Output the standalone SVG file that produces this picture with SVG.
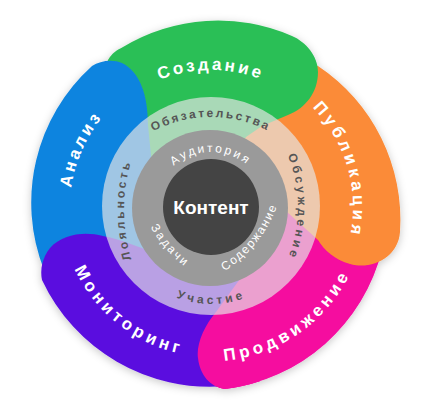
<svg xmlns="http://www.w3.org/2000/svg" width="424" height="404" viewBox="0 0 424 404">
<style>
.outer{font-family:"Liberation Sans",Arial,sans-serif;font-weight:bold;font-size:17px;fill:#fff;letter-spacing:3.5px;dominant-baseline:central}
.mid{font-family:"Liberation Sans",Arial,sans-serif;font-weight:bold;font-size:12px;fill:#555;letter-spacing:3px;dominant-baseline:central}
.inner{font-family:"Liberation Sans",Arial,sans-serif;font-size:12px;fill:#fff;letter-spacing:2px;dominant-baseline:central}
.core{font-family:"Liberation Sans",Arial,sans-serif;font-weight:bold;font-size:19px;fill:#fff;dominant-baseline:central}
</style>
<defs>
<filter id="sh" x="-10%" y="-10%" width="120%" height="120%">
<feDropShadow dx="0" dy="2" stdDeviation="4" flood-color="#000" flood-opacity="0.22"/>
</filter>
<clipPath id="pc"><rect x="150" y="265" width="110" height="139"/></clipPath>
<path id="pinkShape" d="M245,272 L216,312 C204,326 196,345 198,358 C200,375 210,387 225,389 A185 185 0 0 0 382,250 L392,222 L300,200 L211,207 Z"/>
<path id="p-sozd" d="M68,207 A143 143 0 0 1 354,207"/>
<path id="p-publ" d="M170.2,64.7 A148 148 0 0 1 251.8,349.3"/>
<path id="p-anal" d="M150,344 A150 150 0 0 1 272,70"/>
<path id="p-monit" d="M96,115.5 A147 147 0 0 0 326,298.5"/>
<path id="p-prod" d="M87.7,292.4 A150 150 0 0 0 334.3,121.6"/>
<path id="p-obyaz" d="M84,240 A127 127 0 0 1 338,240"/>
<path id="p-obsu" d="M162,67 A140 140 0 0 1 162,347"/>
<path id="p-loyal" d="M290,380 A170 170 0 0 1 290,40"/>
<path id="p-uch" d="M118,207 A93 93 0 0 0 304,207"/>
<path id="p-aud" d="M150,209 A61 61 0 0 1 272,209"/>
<path id="p-sod" d="M74.5,260.5 A128 128 0 0 0 235.5,61.5"/>
<path id="p-zad" d="M180.4,61.4 A132 132 0 0 0 353.6,260.6"/>
</defs>

<g id="petals" filter="url(#sh)">
<use id="prodvizhenie-base" href="#pinkShape" fill="#f5089f"/>
<path id="publikaciya" fill="#fb8b37" d="M300,60 L318,66 A185 185 0 0 1 400,232 C398,258 372,270 350,264 C335,260 324,250 318,240 L287,212 L211,207 L240,125 L260,45 Z"/>
<path id="sozdanie" fill="#2cbf56" d="M100,80 L108,60 C112,53 117,50 123,47 A184 184 0 0 1 292,36 C306,42 318,56 318,72 C318,92 306,108 288,115 L262,126 L246,137 L238,150 L211,207 L160,200 L140,140 Z"/>
<path id="analiz" fill="#0f84df" d="M152,165 L148,125 C148,95 140,72 122,63 C112,59 100,61 92,66 A184 184 0 0 0 44,270 L100,300 L211,207 Z"/>
<path id="monitoring" fill="#5a10df" d="M103,236 C85,231 62,234 50,248 C42,258 40,270 42,280 A185 185 0 0 0 225,386 L260,300 L211,207 L160,255 C145,250 125,240 103,236 Z"/>
<use id="prodvizhenie-top" href="#pinkShape" fill="#f5089f" clip-path="url(#pc)"/>
</g>

<g id="labels-outer">
<text class="outer"><textPath href="#p-sozd" startOffset="50%" text-anchor="middle">Создание</textPath></text>
<text class="outer" style="letter-spacing:4.5px"><textPath href="#p-publ" startOffset="50%" text-anchor="middle">Публикация</textPath></text>
<text class="outer"><textPath href="#p-anal" startOffset="50%" text-anchor="middle">Анализ</textPath></text>
<text class="outer"><textPath href="#p-monit" startOffset="50%" text-anchor="middle">Мониторинг</textPath></text>
<text class="outer"><textPath href="#p-prod" startOffset="50%" text-anchor="middle">Продвижение</textPath></text>
</g>

<g id="ring-middle">
<circle cx="211" cy="206" r="109" fill="#e6e6e6" fill-opacity="0.68"/>
<text class="mid" style="letter-spacing:2.6px"><textPath href="#p-obyaz" startOffset="50%" text-anchor="middle">Обязательства</textPath></text>
<text class="mid" style="letter-spacing:3.5px"><textPath href="#p-obsu" startOffset="50%" text-anchor="middle">Обсуждение</textPath></text>
<text class="mid"><textPath href="#p-loyal" startOffset="50%" text-anchor="middle">Лояльность</textPath></text>
<text class="mid"><textPath href="#p-uch" startOffset="50%" text-anchor="middle">Участие</textPath></text>
</g>

<g id="ring-inner">
<circle cx="210" cy="208" r="78" fill="#9a9a9a"/>
<text class="inner" style="letter-spacing:3px"><textPath href="#p-aud" startOffset="50%" text-anchor="middle">Аудитория</textPath></text>
<text class="inner" style="letter-spacing:1.3px"><textPath href="#p-sod" startOffset="50%" text-anchor="middle">Содержание</textPath></text>
<text class="inner"><textPath href="#p-zad" startOffset="50%" text-anchor="middle">Задачи</textPath></text>
</g>

<g id="core">
<circle cx="211" cy="207" r="48" fill="#444"/>
<text class="core" x="211" y="207" text-anchor="middle">Контент</text>
</g>
</svg>
